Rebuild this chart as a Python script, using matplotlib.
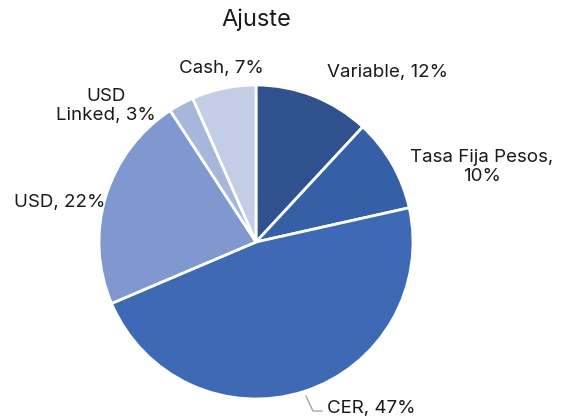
import matplotlib
matplotlib.use("Agg")
import matplotlib.pyplot as plt

# Data (clockwise from the top)
categories = ["Variable", "Tasa Fija Pesos", "CER", "USD", "USD\nLinked", "Cash"]
shares = [11.9, 9.6, 47.1, 22.2, 2.6, 6.6]
pct_labels = ["12%", "10%", "47%", "22%", "3%", "7%"]
colors = ["#2F528F", "#3560A8", "#3E69B4", "#7F98CF", "#A7B6DB", "#C3CDE6"]

plt.rcParams["font.family"] = ["Inter", "DejaVu Sans"]

W, H = 565, 419
cx, cy, R = 256, 242, 157

fig = plt.figure(figsize=(W / 100, H / 100), dpi=100)
ax = fig.add_axes([0, 0, 1, 1])

ax.pie(shares, colors=colors, startangle=90, counterclock=False,
       radius=1, wedgeprops=dict(edgecolor="white", linewidth=2))

ax.set_xlim(-cx / R, (W - cx) / R)
ax.set_ylim(-(H - cy) / R, cy / R)
ax.set_aspect("auto")
ax.axis("off")


def px(x, y):
    # pixel position -> data coordinates
    return (x - cx) / R, (cy - y) / R


# label positions in pixels (center of text)
label_pos = [(388, 72), (482, 167), (371, 408), (60, 202), (106, 106), (221, 68)]
for cat, pct, (x, y) in zip(categories, pct_labels, label_pos):
    if cat == "Tasa Fija Pesos":
        txt = cat + ",\n" + pct
    else:
        txt = cat + ", " + pct
    tx, ty = px(x, y)
    ax.text(tx, ty, txt, ha="center", va="center", fontsize=13.5,
            color="#1a1a1a", linespacing=1.15)

# leader line for CER
lx = [px(306, 396)[0], px(313, 411)[0], px(322, 411)[0]]
ly = [px(306, 396)[1], px(313, 411)[1], px(322, 411)[1]]
ax.plot(lx, ly, color="#a6a6a6", linewidth=1)

tx, ty = px(256, 20)
ax.text(tx, ty, "Ajuste", ha="center", va="center", fontsize=17, color="#1a1a1a")

fig.savefig("out.png", dpi=100)
